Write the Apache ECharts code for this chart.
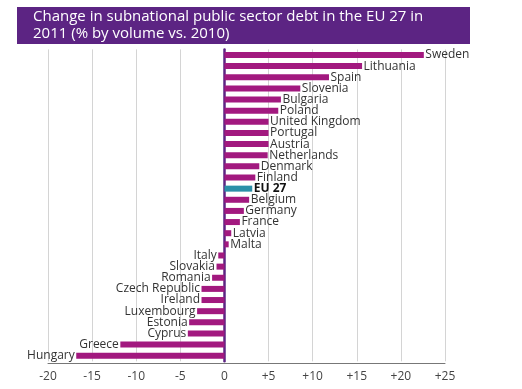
<!DOCTYPE html>
<html>
<head>
<meta charset="utf-8">
<script src="https://cdn.jsdelivr.net/npm/echarts@6/dist/echarts.min.js"></script>
<style>
html,body{margin:0;padding:0;background:#fff;}
#c{width:522px;height:389px;}
</style>
</head>
<body>
<div id="c"></div>
<script>
const categories = ["Sweden","Lithuania","Spain","Slovenia","Bulgaria","Poland","United Kingdom","Portugal","Austria","Netherlands","Denmark","Finland","EU 27","Belgium","Germany","France","Latvia","Malta","Italy","Slovakia","Romania","Czech Republic","Ireland","Luxembourg","Estonia","Cyprus","Greece","Hungary"];
const values = [22.6,15.6,11.85,8.6,6.4,6.1,5.0,5.0,5.0,4.9,3.95,3.5,3.15,2.8,2.2,1.75,0.77,0.48,-0.7,-0.9,-1.4,-2.6,-2.6,-3.1,-4.0,-4.15,-11.8,-16.8];
const tickLabels = {"-20":"-20","-15":"-15","-10":"-10","-5":"-5","0":"0","5":"+5","10":"+10","15":"+15","20":"+20","25":"+25"};
const highlight = "EU 27";

const FONT = "'Open Sans', 'Noto Sans', sans-serif";
const chart = echarts.init(document.getElementById('c'), null, {renderer:'canvas'});

const data = values.map((v,i)=>{
  const isHi = categories[i] === highlight;
  return {
    value: v,
    itemStyle: {color: isHi ? '#2b8fa8' : '#a2197f'},
    label: {
      position: v >= 0 ? 'right' : 'left',
      fontWeight: isHi ? 'bold' : 'normal',
      color: isHi ? '#111' : '#333'
    }
  };
});

chart.setOption({
  animation:false,
  graphic:[{
    type:'rect', left:17, top:7, z:0,
    shape:{width:453, height:37},
    style:{fill:'#5c2483'}
  }],
  title:{
    text:'Change in subnational public sector debt in the EU 27 in\n2011 (% by volume vs. 2010)',
    left:33, top:8, padding:0,
    textStyle:{color:'#fff', fontSize:15, fontWeight:'normal', fontFamily:FONT, lineHeight:17}
  },
  grid:{left:48, right:77, top:49.4, bottom:27.7, containLabel:false},
  xAxis:{
    type:'value', min:-20, max:25, interval:5,
    offset:2,
    axisLine:{show:true, onZero:false, lineStyle:{color:'#777', width:1}},
    axisTick:{show:false},
    splitLine:{show:true, lineStyle:{color:'#d4d4d4', width:1}},
    axisLabel:{margin:7, color:'#444', fontSize:12, fontFamily:FONT,
      formatter:v=>tickLabels[String(v)]}
  },
  yAxis:{
    type:'category', data:categories, inverse:true,
    axisLine:{show:true, onZero:true, lineStyle:{color:'#5c2483', width:2.5}},
    axisTick:{show:false},
    axisLabel:{show:false},
    splitLine:{show:false}
  },
  series:[{
    type:'bar', data:data, barWidth:6,
    label:{show:true, formatter:p=>categories[p.dataIndex], distance:1.5,
      fontSize:12, fontFamily:FONT, color:'#333'}
  }]
});
</script>
</body>
</html>
